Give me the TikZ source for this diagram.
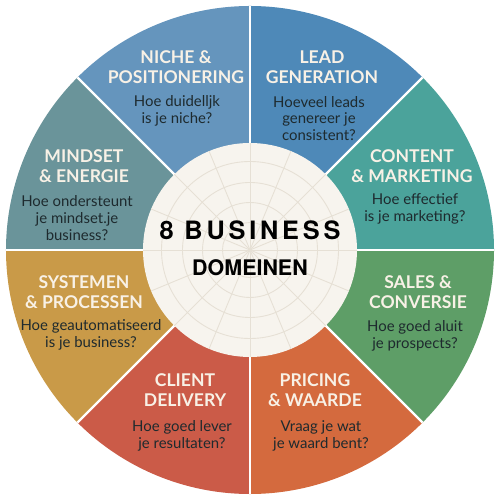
\documentclass[tikz,border=0pt]{standalone}
\usepackage{fontspec}
\usepackage{tikz}
\setmainfont{Lato}
\newfontfamily\widefont[LetterSpace=15]{TeX Gyre Heros}
\newfontfamily\heros{TeX Gyre Heros}
\definecolor{nichecol}{HTML}{6595BD}
\definecolor{leadcol}{HTML}{4E89B8}
\definecolor{contentcol}{HTML}{4BA39B}
\definecolor{salescol}{HTML}{5E9E67}
\definecolor{pricingcol}{HTML}{D46A3E}
\definecolor{clientcol}{HTML}{CB5B48}
\definecolor{systemcol}{HTML}{C99A48}
\definecolor{mindsetcol}{HTML}{6A949A}
\definecolor{hubcol}{HTML}{F7F4EE}
\definecolor{gridcol}{HTML}{E6E0D5}
\definecolor{titlecol}{HTML}{F8F1E6}
\definecolor{askcol}{HTML}{1E2A2E}

\begin{document}
\begin{tikzpicture}[
	title/.style={text=titlecol,align=center,inner sep=0pt,font=\fontsize{10}{11.4}\selectfont\bfseries},
	ask/.style={text=askcol,align=center,inner sep=0pt,font=\fontsize{8.5}{9.6}\selectfont},
	divider/.style={white,line width=1.4pt}]
		\fill[white] (-5,-5) rectangle (5,5);
		% segments
		\fill[contentcol] (0,0) -- (0:4.88) arc (0:45:4.88) -- cycle;
		\fill[leadcol] (0,0) -- (45:4.88) arc (45:90:4.88) -- cycle;
		\fill[nichecol] (0,0) -- (90:4.88) arc (90:135:4.88) -- cycle;
		\fill[mindsetcol] (0,0) -- (135:4.88) arc (135:180:4.88) -- cycle;
		\fill[systemcol] (0,0) -- (180:4.88) arc (180:225:4.88) -- cycle;
		\fill[clientcol] (0,0) -- (225:4.88) arc (225:270:4.88) -- cycle;
		\fill[pricingcol] (0,0) -- (270:4.88) arc (270:315:4.88) -- cycle;
		\fill[salescol] (0,0) -- (315:4.88) arc (315:360:4.88) -- cycle;
		\foreach \a in {0,45,...,315}
			\draw[divider] (0,0) -- (\a:4.88);
		% hub with faint grid
		\fill[hubcol] (0,0) circle (2.14);
		\begin{scope}
		\clip (0,0) circle (2.14);
		\foreach \r in {0.55,0.95,1.35,1.77}
			\draw[gridcol,line width=0.5pt] (0,0) circle (\r);
		\foreach \a in {0,22.5,...,337.5}
			\draw[gridcol,line width=0.5pt] (0,0) -- (\a:2.2);
		\end{scope}
		\node[inner sep=0pt,font=\widefont\fontsize{14.4}{16}\selectfont\bfseries] (hubtop) at (0,0.4) {8 BUSINESS};
		\node[inner sep=0pt,font=\heros\fontsize{12.2}{14}\selectfont\bfseries] (hubbottom) at (0,-0.36) {DOMEINEN};
		% titles
		\node[title] (niche) at (-1.48,3.66) {NICHE \&\\POSITIONERING};
		\node[title] (lead) at (1.44,3.66) {LEAD\\GENERATION};
		\node[title] (content) at (3.24,1.67) {CONTENT\\\& MARKETING};
		\node[title] (sales) at (3.36,-0.84) {SALES \&\\CONVERSIE};
		\node[title] (mindset) at (-3.32,1.68) {MINDSET\\\& ENERGIE};
		\node[title] (systems) at (-3.32,-0.84) {SYSTEMEN\\\& PROCESSEN};
		\node[title] (client) at (-1.30,-2.81) {CLIENT\\DELIVERY};
		\node[title] (pricing) at (1.30,-2.81) {PRICING\\\& WAARDE};
		% questions
		\node[ask] (nicheq) at (-1.46,2.79) {Hoe duidelljk\\is je niche?};
		\node[ask] (leadq) at (1.38,2.63) {Hoeveel leads\\genereer je\\consistent?};
		\node[ask] (contentq) at (3.30,0.82) {Hoe effectief\\is je marketing?};
		\node[ask] (salesq) at (3.30,-1.72) {Hoe goed aluit\\je prospects?};
		\node[ask] (mindsetq) at (-3.46,0.64) {Hoe ondersteunt\\je mindset.je\\business?};
		\node[ask] (systemsq) at (-3.18,-1.70) {Hoe geautomatiseerd\\is je business?};
		\node[ask] (clientq) at (-1.36,-3.71) {Hoe goed lever\\je resultaten?};
		\node[ask] (pricingq) at (1.42,-3.71) {Vraag je wat\\je waard bent?};
		\end{tikzpicture}
\end{document}
